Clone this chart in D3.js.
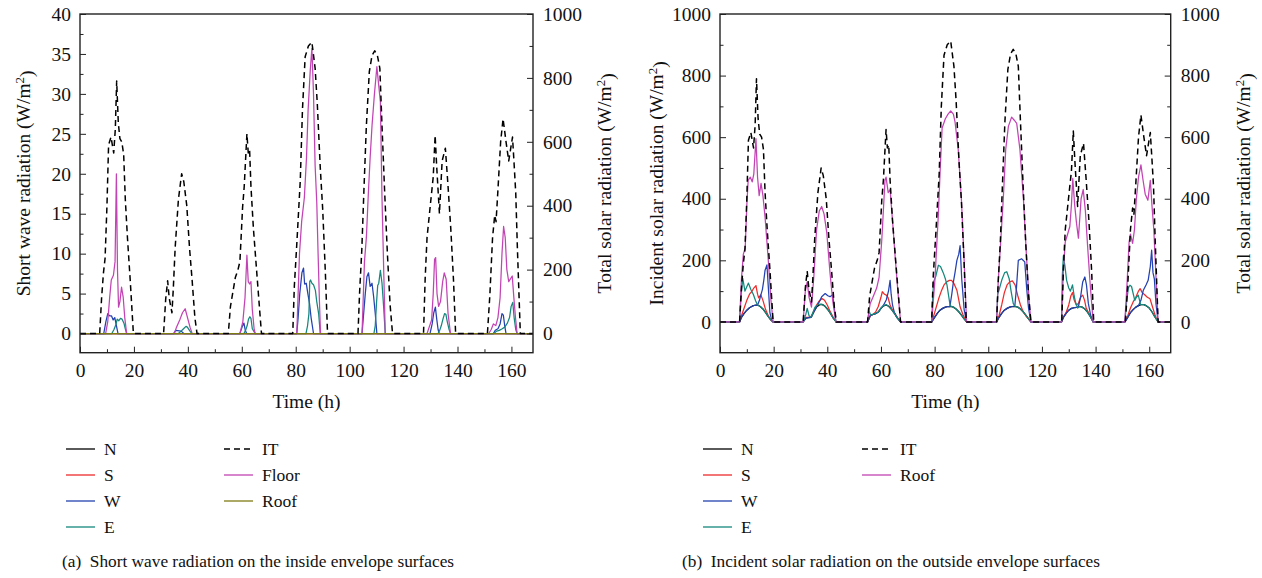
<!DOCTYPE html>
<html>
<head>
<meta charset="utf-8">
<script src="https://cdn.jsdelivr.net/npm/d3@7"></script>
<style>
  body { margin: 0; background: #fff; }
  svg text { font-family: "Liberation Serif", "Times New Roman", serif; fill: #111; }
</style>
</head>
<body>
<svg id="chart" width="1262" height="578"></svg>
<script>
// each day is a list of [hour of that day, value]; night hours are zero
const dayStarts = [0, 24, 48, 72, 96, 120, 144];

const xTicks = [0, 20, 40, 60, 80, 100, 120, 140, 160];
const xMinor = [10, 30, 50, 70, 90, 110, 130, 150];
const shortTicks = [0, 5, 10, 15, 20, 25, 30, 35, 40];
const shortMinor = [2.5, 7.5, 12.5, 17.5, 22.5, 27.5, 32.5, 37.5];
const solarTicks = [0, 200, 400, 600, 800, 1000];
const solarMinor = [100, 300, 500, 700, 900];

// total solar radiation IT (W/m2), same in both panels
const itDays = [
  [[7.3,0],[8,110],[8.7,190],[9.3,235],[10,400],[10.6,590],[11.5,615],[12.5,565],[13.1,640],[13.6,790],[14.2,660],[14.8,610],[15.5,600],[16.2,560],[16.8,420],[17.6,300],[18.6,170],[19.8,0]],
  [[7,0],[7.8,110],[8.5,165],[9.1,110],[10.1,65],[10.6,140],[11.3,270],[12.5,420],[13.7,500],[14.5,475],[15.6,400],[16.6,270],[17.6,165],[18.6,50],[19.4,0]],
  [[7,0],[7.8,85],[9.6,175],[10.6,200],[11.3,225],[12.3,395],[12.9,460],[13.9,625],[14.4,565],[14.9,575],[15.4,460],[16.3,330],[17.2,230],[18.2,120],[19.3,0]],
  [[6.9,0],[7.5,150],[8.4,280],[9.7,480],[10.5,700],[11.5,866],[12.7,900],[14,912],[15.2,830],[16,720],[17.1,520],[18,390],[19,190],[19.8,0]],
  [[7.1,0],[7.7,130],[8.5,260],[9.3,450],[10.2,650],[11.3,820],[12.3,870],[13.3,885],[14.3,870],[15.2,830],[16,650],[17,440],[18,250],[19,90],[19.9,0]],
  [[7.4,0],[8,170],[8.7,300],[9.9,400],[11,490],[11.7,620],[12.3,520],[13.3,375],[14.3,540],[15.5,580],[16.5,460],[17.5,330],[18.5,170],[19.3,0]],
  [[7.1,0],[8,120],[9,300],[9.8,370],[10.3,350],[11,450],[12,600],[12.9,672],[14,600],[15,540],[16.4,615],[17,530],[17.6,440],[18.2,270],[19.3,0]]
];

// (a) short wave radiation on inside surfaces (W/m2)
const floorDays = [
  [[9.5,0],[10.3,1.5],[11,4.5],[11.6,6.7],[12.4,7.3],[13,9],[13.5,20],[13.9,8],[14.3,3.3],[14.8,4],[15.4,5.8],[16,4.6],[16.6,2],[17.3,0]],
  [[11,0],[11.8,0.8],[13.1,1.8],[14,2.6],[15,3.1],[15.7,2.2],[16.8,0.8],[17.6,0]],
  [[11.3,0],[12.4,1.5],[13.2,4.5],[13.9,9.8],[14.4,6.5],[14.9,6.2],[15.4,6.5],[15.9,3],[16.6,0.5],[17,0]],
  [[8.4,0],[8.9,5],[9.4,10],[10.2,14],[11.2,17],[12,22],[12.6,28],[13.4,33],[14,35.7],[14.6,30],[15.2,21],[15.8,16.5],[16.3,10],[16.8,4],[17.2,0]],
  [[8.6,0],[9,4],[9.5,9],[10.2,12],[11,18],[11.6,22],[12.3,26],[13.2,30],[14.1,33.4],[14.8,31],[15.4,29],[16,17],[16.7,7],[17.2,0]],
  [[8.7,0],[9.5,0.8],[10.4,1.7],[11,5],[11.5,9.3],[11.9,9.5],[12.4,5],[13,3.4],[13.7,4],[14.5,6.5],[15.1,7.6],[15.8,6.8],[16.5,2.5],[17.4,0]],
  [[7.6,0],[8.5,0.5],[9.3,1.2],[10.2,1],[11,2],[11.8,4.5],[12.5,10],[13.1,13.4],[13.7,12],[14.3,8],[15,6.5],[16.3,7.2],[16.9,4.5],[17.5,2],[18.1,0]]
];
const wInDays = [
  [[8.8,0],[9.6,1.5],[10.3,2.5],[11,2.2],[11.7,2.2],[12.3,1.7],[12.9,2.0],[13.5,1.0],[14.1,0]],
  [[10.7,0],[11.5,0.4],[13.5,0.3],[14.5,0]],
  [[11.3,0],[12.2,0.9],[12.8,1.3],[13.3,0.4],[13.8,0]],
  [[8.4,0],[8.9,2],[9.5,5],[10.3,7.6],[10.9,8.2],[11.3,6.2],[11.9,6.3],[12.5,5],[13.1,3.8],[13.7,2],[14.6,0]],
  [[8.6,0],[9.2,2.5],[9.8,5],[10.4,7.1],[11,7.6],[11.6,5.9],[12.3,6.3],[12.9,4.6],[13.5,2.5],[14.1,0]],
  [[9.8,0],[10.6,1.2],[11.2,2.6],[11.8,3.3],[12.3,1.8],[12.8,0.5],[13.2,0]],
  [[9.3,0],[10,0.4],[11,0.6],[11.8,1.2],[12.5,2.5],[13,2.3],[13.5,1],[14,0]]
];
const eInDays = [
  [[11.8,0],[12.6,0.5],[13.3,1.1],[13.8,1.8],[14.4,1.6],[15,1.9],[15.6,1.8],[16.3,1.3],[16.8,0.6],[17.3,0]],
  [[12.5,0],[13.5,0.3],[14.4,0.6],[15.3,0.9],[15.8,0.8],[16.8,0.3],[17.5,0]],
  [[12.8,0],[13.4,0.4],[14,1],[14.5,1.8],[15,2.1],[15.4,1.9],[15.9,0.6],[16.6,0.2],[17,0]],
  [[11.8,0],[12.4,1],[12.9,2.5],[13.2,6.5],[13.5,6.7],[14,6.3],[14.6,6.1],[15.3,5.4],[15.8,4],[16.5,2.5],[17.1,0]],
  [[13,0],[13.5,1],[14,4],[14.4,6],[14.8,6.3],[15.4,7.9],[16,6.3],[16.6,3.4],[17.2,0]],
  [[12.8,0],[13.4,0.4],[14,1],[14.6,1.8],[15.2,2.5],[15.7,2.4],[16.2,1.5],[16.8,0.6],[17.4,0]],
  [[9.5,0],[10.5,0.3],[11.5,0.4],[12.6,0.6],[13.5,0.8],[14.5,1.3],[15.3,2],[15.9,3.4],[16.5,3.9],[17,2],[17.6,0.5],[18.1,0]]
];
const flatDays = []; // N, S and Roof stay on zero in panel (a)

// (b) incident solar radiation on outside surfaces (W/m2)
const nOutDays = [
  [[7.3,0],[8,15],[9,28],[10,38],[11,46],[12,51],[13,54],[14,55],[15,50],[16,42],[17,30],[18,17],[19,6],[19.8,0]],
  [[7,0],[8,12],[9,14],[10,15],[11,33],[12,48],[13,55],[14,57],[15,52],[16,42],[17,30],[18,15],[19.3,0]],
  [[7,0],[8,20],[9,24],[10,27],[11,32],[12,44],[13,52],[14,55],[15,50],[16,40],[17,28],[18,14],[19.3,0]],
  [[6.9,0],[8,15],[9,28],[10,38],[11,44],[12,48],[13,50],[14,50],[15,48],[16,42],[17,33],[18,22],[19,10],[19.9,0]],
  [[7.1,0],[8,15],[9,28],[10,38],[11,44],[12,48],[13,50],[14,50],[15,48],[16,42],[17,33],[18,22],[19,10],[19.9,0]],
  [[7.3,0],[8,15],[9,28],[10,38],[11,44],[12,46],[13,47],[14,50],[15,48],[16,42],[17,32],[18,18],[19.1,0]],
  [[6.9,0],[8,15],[9,30],[10,40],[11,48],[12,53],[13,56],[14,56],[15,52],[16,45],[17,33],[18,18],[19.3,0]]
];
const sOutDays = [
  [[7.3,0],[8,20],[9,45],[10,70],[11,90],[11.8,98],[12.6,110],[13.4,118],[14,90],[14.4,78],[15.2,88],[16,70],[17,40],[18,20],[19,6],[19.8,0]],
  [[7,0],[8,15],[9,15],[10,18],[11,35],[12,55],[13,68],[14,76],[15,70],[16,55],[17,35],[18,18],[19.3,0]],
  [[7,0],[8,20],[9,24],[10,32],[11,50],[12,80],[12.5,98],[13.3,90],[14,87],[14.6,80],[15.4,55],[16.3,38],[17.3,26],[18.3,12],[19.3,0]],
  [[6.9,0],[7.5,15],[8.5,45],[9.5,75],[10.5,100],[11.5,120],[12.5,130],[13.5,135],[14.3,135],[15.2,125],[16.3,103],[17.5,49],[18.5,25],[19.9,0]],
  [[7.1,0],[8,20],[9,55],[10,95],[11,120],[12,130],[13,133],[14,120],[15,85],[16,55],[17,33],[18,20],[19,10],[19.9,0]],
  [[7.3,0],[8,15],[9,30],[10,55],[10.8,85],[11.4,95],[12,72],[12.8,55],[13.6,60],[14.4,80],[15.2,87],[15.9,70],[16.5,45],[17.5,28],[18.5,12],[19.1,0]],
  [[6.9,0],[8,20],[9,45],[10,65],[11,80],[12,100],[12.6,108],[13.4,95],[14.3,88],[15.3,80],[16.3,75],[17,55],[18,27],[18.6,12],[19.3,0]]
];
const wOutDays = [
  [[7.3,0],[8,15],[9,28],[10,38],[11,46],[12,51],[13,54],[14,55],[14.7,70],[15.2,87],[15.8,105],[16.4,140],[16.8,168],[17.5,185],[18.1,100],[18.6,30],[19.2,8],[19.8,0]],
  [[7,0],[8,12],[9,14],[10,15],[11,33],[12,50],[13,65],[13.9,82],[15.2,92],[16.2,85],[17,82],[18,88],[18.4,60],[19.2,0]],
  [[7,0],[8,20],[9,24],[10,27],[11,32],[12,44],[13,55],[14,72],[14.8,100],[15.4,135],[15.8,90],[16.3,55],[17,30],[18,14],[19.3,0]],
  [[6.9,0],[8,15],[9,28],[10,38],[11,44],[12,48],[13,50],[13.7,50],[14.4,90],[15,130],[15.6,160],[16.3,200],[17,220],[17.5,248],[18.1,140],[19,40],[19.9,0]],
  [[7.1,0],[8,15],[9,28],[10,38],[11,44],[12,48],[13,50],[13.9,52],[14.5,110],[15.2,200],[16.4,205],[17.6,195],[18.3,110],[19,45],[19.9,0]],
  [[7.3,0],[8,15],[9,28],[10,38],[11,44],[12,46],[13,47],[13.6,50],[14.4,80],[15.2,130],[16,146],[16.6,120],[17.3,60],[18.2,20],[19.1,0]],
  [[6.9,0],[8,15],[9,30],[10,40],[11,48],[12,53],[12.9,70],[13.8,103],[14.8,120],[15.6,135],[16.4,180],[16.9,233],[17.4,160],[17.9,140],[18.5,60],[19.3,0]]
];
const eOutDays = [
  [[7.3,0],[7.9,90],[8.5,141],[9.3,100],[10.6,126],[11.5,105],[12.4,90],[13.3,68],[14,55],[15,50],[16,42],[17,30],[18,17],[19,6],[19.8,0]],
  [[7,0],[8,25],[8.5,44],[9.2,20],[10,15],[10.6,30],[11.4,48],[12.5,56],[13.5,58],[14.5,55],[15,52],[16,42],[17,30],[18,15],[19.3,0]],
  [[7,0],[7.6,35],[8.2,22],[9,25],[10,28],[11,32],[12,45],[13,53],[14,56],[15,50],[16,40],[17,28],[18,14],[19.3,0]],
  [[6.9,0],[7.3,80],[7.6,130],[8.5,150],[9.4,184],[10.2,180],[11.2,160],[12,140],[12.6,120],[13.3,80],[13.8,52],[15,48],[16,42],[17,33],[18,22],[19,10],[19.9,0]],
  [[7.1,0],[7.5,90],[7.9,100],[9,135],[10.1,160],[10.9,163],[11.8,140],[12.5,100],[13.3,60],[14,50],[15,48],[16,42],[17,33],[18,22],[19,10],[19.9,0]],
  [[7.3,0],[7.6,150],[8,215],[8.6,180],[9.2,135],[10,110],[10.6,100],[11.4,120],[12,85],[12.5,65],[13.3,45],[14,50],[15,48],[16,42],[17,32],[18,18],[19.1,0]],
  [[6.9,0],[7.5,60],[8.2,110],[8.8,119],[9.4,115],[10.6,70],[11.2,80],[11.9,87],[12.8,56],[14,56],[15,52],[16,45],[17,33],[18,18],[19.3,0]]
];
const roofOutDays = [
  [[7.3,0],[8,140],[8.7,220],[9.4,240],[10,380],[10.5,460],[11.3,470],[12,455],[12.6,480],[13.4,595],[14,470],[14.6,410],[15.3,450],[16,410],[16.8,340],[18,200],[19,70],[19.8,0]],
  [[7,0],[7.8,100],[8.5,130],[9.2,80],[10.1,48],[11,150],[12,300],[13,360],[13.9,375],[14.8,350],[15.8,290],[17,160],[18,70],[19.2,0]],
  [[7,0],[7.6,40],[8,60],[9,80],[10.4,110],[11.3,145],[12.3,265],[13.5,460],[13.9,470],[14.7,420],[15.4,430],[16.3,330],[17.3,210],[18.3,100],[19.3,0]],
  [[6.9,0],[8.1,135],[9.4,350],[10.2,520],[10.8,630],[12,660],[13,675],[14,685],[15,675],[15.6,650],[16.8,560],[18,395],[19,200],[19.9,0]],
  [[7.1,0],[7.7,130],[8.7,270],[9.6,400],[10.5,560],[11.5,635],[12.7,665],[13.7,655],[14.6,645],[15.8,560],[17.1,400],[18.2,220],[19.2,70],[19.9,0]],
  [[7.3,0],[8,170],[8.7,260],[9.4,280],[10.4,310],[11,380],[11.5,466],[12.2,380],[12.9,320],[13.6,272],[14.6,400],[15.4,430],[16.2,360],[17,250],[18,120],[19.1,0]],
  [[6.9,0],[7.7,120],[8.5,260],[9,285],[9.8,255],[10.5,300],[11.2,400],[12,470],[12.9,510],[13.7,460],[14.5,415],[15.5,395],[16.4,460],[17,380],[17.7,300],[18.5,150],[19.3,0]]
];

const colors = { N: '#000000', S: '#ee2b2b', W: '#2341b0', E: '#15877d', mag: '#c244b4', olive: '#7d7a12' };

const svg = d3.select('#chart');

// turn the day lists into one week long series
const toSeries = (days) => {
  const pts = [[0, 0]];
  days.forEach((day, i) => day.forEach(([h, v]) => pts.push([dayStarts[i] + h, v])));
  pts.push([168, 0]);
  return pts;
};

const drawPanel = (cfg) => {
  const x = d3.scaleLinear().domain([0, 168]).range([cfg.left, cfg.right]);
  const yL = d3.scaleLinear().domain(cfg.leftDomain).range([cfg.bottom, cfg.top]);
  const yR = d3.scaleLinear().domain(cfg.rightDomain).range([cfg.bottom, cfg.top]);
  const g = svg.append('g');
  const fmt = d3.format('d');

  // series
  cfg.series.forEach((s) => {
    const y = s.axis === 'right' ? yR : yL;
    const line = d3.line().x((d) => x(d[0])).y((d) => y(d[1]));
    g.append('path')
      .datum(toSeries(s.days))
      .attr('fill', 'none')
      .attr('stroke', s.color)
      .attr('stroke-width', s.dash ? 1.5 : 1.25)
      .attr('stroke-dasharray', s.dash ? '6,4' : null)
      .attr('stroke-linejoin', 'round')
      .attr('d', line);
  });

  const styleAxis = (sel) => {
    sel.select('.domain').remove();
    sel.selectAll('line').attr('stroke', '#222').attr('stroke-width', 1);
    sel.selectAll('text').attr('font-family', '"Liberation Serif", serif').attr('font-size', 19.5).attr('fill', '#111');
  };

  // x axis
  g.append('g')
    .attr('transform', `translate(0,${cfg.bottom})`)
    .call(d3.axisBottom(x).tickValues(xTicks).tickFormat(fmt).tickSizeInner(-6).tickSizeOuter(0).tickPadding(10))
    .call(styleAxis);
  g.append('g')
    .attr('transform', `translate(0,${cfg.bottom})`)
    .call(d3.axisBottom(x).tickValues(xMinor).tickSizeInner(-3.5).tickSizeOuter(0).tickFormat(''))
    .call(styleAxis);

  // left y
  g.append('g')
    .attr('transform', `translate(${cfg.left},0)`)
    .call(d3.axisLeft(yL).tickValues(cfg.leftTicks).tickFormat(fmt).tickSizeInner(-6).tickSizeOuter(0).tickPadding(9))
    .call(styleAxis);
  g.append('g')
    .attr('transform', `translate(${cfg.left},0)`)
    .call(d3.axisLeft(yL).tickValues(cfg.leftMinor).tickSizeInner(-3.5).tickSizeOuter(0).tickFormat(''))
    .call(styleAxis);

  // right y
  g.append('g')
    .attr('transform', `translate(${cfg.right},0)`)
    .call(d3.axisRight(yR).tickValues(solarTicks).tickFormat(fmt).tickSizeInner(-6).tickSizeOuter(0).tickPadding(10))
    .call(styleAxis);
  g.append('g')
    .attr('transform', `translate(${cfg.right},0)`)
    .call(d3.axisRight(yR).tickValues(solarMinor).tickSizeInner(-3.5).tickSizeOuter(0).tickFormat(''))
    .call(styleAxis);

  // frame
  g.append('rect')
    .attr('x', cfg.left)
    .attr('y', cfg.top)
    .attr('width', cfg.right - cfg.left)
    .attr('height', cfg.bottom - cfg.top)
    .attr('fill', 'none')
    .attr('stroke', '#222')
    .attr('stroke-width', 1.4);

  // axis titles
  g.append('text')
    .attr('x', (cfg.left + cfg.right) / 2)
    .attr('y', 408)
    .attr('text-anchor', 'middle')
    .attr('font-size', 19.5)
    .text('Time (h)');

  const unitTitle = (xPos, label) => {
    const t = g.append('text')
      .attr('transform', `translate(${xPos},${(cfg.top + cfg.bottom) / 2}) rotate(-90)`)
      .attr('text-anchor', 'middle')
      .attr('font-size', 19.5);
    t.append('tspan').text(label + ' (W/m');
    t.append('tspan').attr('dy', '-0.45em').attr('font-size', 13).text('2');
    t.append('tspan').attr('dy', '0.45em').text(')');
  };
  unitTitle(cfg.leftTitleX, cfg.leftTitle);
  unitTitle(cfg.rightTitleX, 'Total solar radiation');

  // legend
  cfg.legend.forEach((it) => {
    const lx = it.col === 0 ? cfg.legendX[0] : cfg.legendX[1];
    const ly = 449 + it.row * 26;
    g.append('line')
      .attr('x1', lx).attr('x2', lx + 29)
      .attr('y1', ly).attr('y2', ly)
      .attr('stroke', it.color)
      .attr('stroke-width', it.dash ? 1.5 : 1.3)
      .attr('stroke-dasharray', it.dash ? '6,4' : null);
    g.append('text')
      .attr('x', lx + 38)
      .attr('y', ly + 6)
      .attr('font-size', 17.5)
      .text(it.label);
  });

  g.append('text')
    .attr('x', cfg.captionX)
    .attr('y', 567)
    .attr('font-size', 17.3)
    .attr('xml:space', 'preserve')
    .text(cfg.caption);
};

drawPanel({
  left: 80, right: 533, top: 14, bottom: 352.7,
  leftDomain: [-2.4, 40], rightDomain: [-60, 1000],
  leftTicks: shortTicks, leftMinor: shortMinor,
  leftTitle: 'Short wave radiation', leftTitleX: 30, rightTitleX: 611,
  series: [
    { days: flatDays, color: colors.N },
    { days: flatDays, color: colors.S },
    { days: wInDays, color: colors.W },
    { days: eInDays, color: colors.E },
    { days: floorDays, color: colors.mag },
    { days: flatDays, color: colors.olive },
    { days: itDays, color: '#000', dash: true, axis: 'right' }
  ],
  legendX: [66, 224],
  legend: [
    { col: 0, row: 0, label: 'N', color: colors.N },
    { col: 0, row: 1, label: 'S', color: colors.S },
    { col: 0, row: 2, label: 'W', color: colors.W },
    { col: 0, row: 3, label: 'E', color: colors.E },
    { col: 1, row: 0, label: 'IT', color: '#000', dash: true },
    { col: 1, row: 1, label: 'Floor', color: colors.mag },
    { col: 1, row: 2, label: 'Roof', color: colors.olive }
  ],
  captionX: 62,
  caption: '(a)  Short wave radiation on the inside envelope surfaces'
});

drawPanel({
  left: 720, right: 1170.7, top: 14, bottom: 352.7,
  leftDomain: [-100, 1000], rightDomain: [-100, 1000],
  leftTicks: solarTicks, leftMinor: solarMinor,
  leftTitle: 'Incident solar radiation', leftTitleX: 663, rightTitleX: 1250,
  series: [
    { days: nOutDays, color: colors.N },
    { days: sOutDays, color: colors.S },
    { days: wOutDays, color: colors.W },
    { days: eOutDays, color: colors.E },
    { days: roofOutDays, color: colors.mag },
    { days: itDays, color: '#000', dash: true }
  ],
  legendX: [703, 862],
  legend: [
    { col: 0, row: 0, label: 'N', color: colors.N },
    { col: 0, row: 1, label: 'S', color: colors.S },
    { col: 0, row: 2, label: 'W', color: colors.W },
    { col: 0, row: 3, label: 'E', color: colors.E },
    { col: 1, row: 0, label: 'IT', color: '#000', dash: true },
    { col: 1, row: 1, label: 'Roof', color: colors.mag }
  ],
  captionX: 682,
  caption: '(b)  Incident solar radiation on the outside envelope surfaces'
});
</script>
</body>
</html>
